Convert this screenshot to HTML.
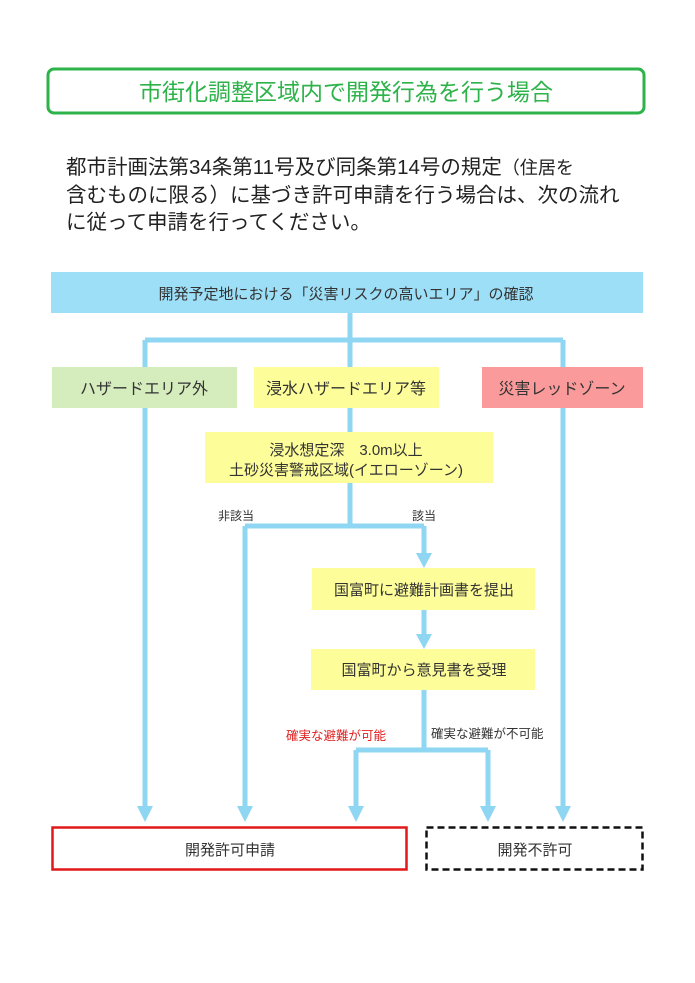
<!DOCTYPE html>
<html><head><meta charset="utf-8"><style>
body{margin:0;background:#fff;width:695px;height:983px;overflow:hidden}
svg{display:block}
text{font-family:"Liberation Sans","Noto Sans CJK JP",sans-serif}
</style></head><body>
<svg width="695" height="983" viewBox="0 0 695 983">
<rect x="48" y="69" width="596" height="44" rx="6" fill="#fff" stroke="#2db34a" stroke-width="3"/>
<text x="346" y="100" font-size="23" fill="#2db34a" text-anchor="middle">市街化調整区域内で開発行為を行う場合</text>
<text font-size="20.5" fill="#222">
<tspan x="66" y="174">都市計画法第34条第11号及び同条第14号の規定<tspan font-size="18">（住居を</tspan></tspan>
<tspan x="66" y="202">含むものに限る）に基づき許可申請を行う場合は、次の流れ</tspan>
<tspan x="66" y="229">に従って申請を行ってください。</tspan>
</text>
<g stroke="#8fd6f2" stroke-width="5" fill="none">
<path d="M350 313V432M145 340H563M145 340V808M563 340V808M350 483V526M245 526H424M245 526V808M424 526V555M424 610V636M424 690V750M356 750H488M356 750V808M488 750V808"/>
</g>
<g fill="#8fd6f2">
<path d="M137 806h16l-8 16zM237 806h16l-8 16zM348 806h16l-8 16zM480 806h16l-8 16zM555 806h16l-8 16zM416 553h16l-8 15zM416 634h16l-8 15z"/>
</g>
<rect x="51" y="272" width="592" height="41" fill="#9ddff7"/>
<text x="346" y="299" font-size="15" fill="#333" text-anchor="middle">開発予定地における「災害リスクの高いエリア」の確認</text>
<rect x="52" y="367" width="185" height="41" fill="#d5ecbd"/>
<text x="144" y="394" font-size="16" fill="#333" text-anchor="middle">ハザードエリア外</text>
<rect x="254" y="367" width="185" height="41" fill="#fdfd9a"/>
<text x="346" y="394" font-size="16" fill="#333" text-anchor="middle">浸水ハザードエリア等</text>
<rect x="482" y="367" width="161" height="41" fill="#fb9a9a"/>
<text x="562" y="394" font-size="16" fill="#333" text-anchor="middle">災害レッドゾーン</text>
<rect x="205" y="432" width="288" height="51" fill="#fdfd9a"/>
<text x="346" y="455" font-size="15" fill="#333" text-anchor="middle">浸水想定深　3.0m以上</text>
<text x="346" y="475" font-size="15" fill="#333" text-anchor="middle">土砂災害警戒区域(イエローゾーン)</text>
<text x="218" y="520" font-size="12" fill="#333">非該当</text>
<text x="412" y="520" font-size="12" fill="#333">該当</text>
<rect x="312" y="568" width="223" height="42" fill="#fdfd9a"/>
<text x="424" y="595" font-size="15" fill="#333" text-anchor="middle">国富町に避難計画書を提出</text>
<rect x="311" y="649" width="224" height="41" fill="#fdfd9a"/>
<text x="424" y="675" font-size="15" fill="#333" text-anchor="middle">国富町から意見書を受理</text>
<text x="286" y="740" font-size="12.5" fill="#e02020">確実な避難が可能</text>
<text x="431" y="738" font-size="12.5" fill="#333">確実な避難が不可能</text>
<rect x="52.5" y="827.5" width="354" height="42" fill="#fff" stroke="#e01818" stroke-width="2.5"/>
<text x="230" y="855" font-size="15" fill="#333" text-anchor="middle">開発許可申請</text>
<rect x="426.5" y="827.5" width="216" height="42" fill="#fff" stroke="#111" stroke-width="2.5" stroke-dasharray="7,4"/>
<text x="535" y="855" font-size="15" fill="#333" text-anchor="middle">開発不許可</text>
</svg>
</body></html>
